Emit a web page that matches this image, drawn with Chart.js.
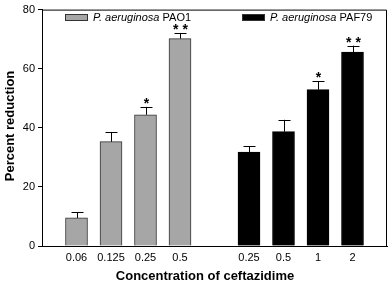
<!DOCTYPE html>
<html>
<head>
<meta charset="utf-8">
<script src="https://cdn.jsdelivr.net/npm/chart.js@4/dist/chart.umd.min.js"></script>
<style>
  html, body { margin: 0; padding: 0; background: #fff; }
  #wrap { width: 392px; height: 286px; }
</style>
</head>
<body>
<div id="wrap"><canvas id="myChart" width="392" height="286"></canvas></div>
<script>
// slots along x: empty slot at both ends and one between the groups
const categories = ['', '0.06', '0.125', '0.25', '0.5', '', '0.25', '0.5', '1', '2', ''];
const pao1Values = [null, 9.5, 35.3, 44.4, 70.2, null, null, null, null, null, null];
const pao1Errors = [null, 1.9, 3.3, 2.7, 1.9, null, null, null, null, null, null];
const paf79Values = [null, null, null, null, null, null, 31.8, 38.7, 52.9, 65.6, null];
const paf79Errors = [null, null, null, null, null, null, 2.0, 4.0, 2.8, 2.2, null];
const stars = ['', '', '', '*', '**', '', '', '', '*', '**', ''];
const yTicks = [0, 20, 40, 60, 80];

const FONT = 'Arial, "Liberation Sans", sans-serif';

const extras = {
  id: 'extras',
  afterDatasetsDraw(chart) {
    const { ctx, chartArea, scales } = chart;
    const x = scales.x, y = scales.y;
    ctx.save();

    // frame top and right
    ctx.strokeStyle = '#000';
    ctx.lineWidth = 1;
    ctx.beginPath();
    ctx.moveTo(chartArea.left, chartArea.top + 0.5);
    ctx.lineTo(chartArea.right - 0.5, chartArea.top + 0.5);
    ctx.lineTo(chartArea.right - 0.5, chartArea.bottom);
    ctx.stroke();

    // error bars (upward only) and stars
    const series = [[pao1Values, pao1Errors], [paf79Values, paf79Errors]];
    series.forEach(([vals, errs]) => {
      vals.forEach((v, i) => {
        if (v == null) return;
        const cx = Math.round(x.getPixelForValue(i)) + 0.5;
        const yTop = y.getPixelForValue(v);
        const yErr = y.getPixelForValue(v + errs[i]);
        ctx.beginPath();
        ctx.moveTo(cx, yTop);
        ctx.lineTo(cx, yErr);
        ctx.moveTo(cx - 6, Math.round(yErr) + 0.5);
        ctx.lineTo(cx + 6, Math.round(yErr) + 0.5);
        ctx.stroke();
        if (stars[i]) {
          ctx.fillStyle = '#000';
          ctx.font = 'bold 14px ' + FONT;
          ctx.textAlign = 'center';
          ctx.textBaseline = 'alphabetic';
          ctx.fillText(stars[i].split('').join(' '), cx, yErr + 1);
        }
      });
    });

    // legends
    const legendItem = (bx, by, fill, label) => {
      ctx.fillStyle = fill;
      ctx.fillRect(bx, by, 23, 7);
      ctx.strokeStyle = '#333';
      ctx.strokeRect(bx + 0.5, by + 0.5, 22, 6);
      ctx.fillStyle = '#000';
      ctx.textAlign = 'left';
      ctx.textBaseline = 'alphabetic';
      ctx.font = 'italic 11px ' + FONT;
      ctx.fillText('P. aeruginosa', bx + 28, by + 7);
      const w = ctx.measureText('P. aeruginosa ').width;
      ctx.font = '11px ' + FONT;
      ctx.fillText(label, bx + 28 + w, by + 7);
    };
    legendItem(65, 14, '#a6a6a6', 'PAO1');
    legendItem(242, 14, '#000', 'PAF79');

    // axis titles
    ctx.fillStyle = '#000';
    ctx.font = 'bold 13px ' + FONT;
    ctx.textAlign = 'center';
    ctx.textBaseline = 'middle';
    ctx.fillText('Concentration of ceftazidime', 205, 276);
    ctx.translate(10, 126);
    ctx.rotate(-Math.PI / 2);
    ctx.fillText('Percent reduction', 0, 0);
    ctx.restore();
  }
};

new Chart(document.getElementById('myChart'), {
  type: 'bar',
  data: {
    labels: categories,
    datasets: [{
      label: 'P. aeruginosa PAO1',
      data: pao1Values,
      backgroundColor: '#a6a6a6',
      borderColor: '#333',
      borderWidth: 1,
      barThickness: 22,
      grouped: false,
    }, {
      label: 'P. aeruginosa PAF79',
      data: paf79Values,
      backgroundColor: '#000',
      borderColor: '#000',
      borderWidth: 1,
      barThickness: 22,
      grouped: false,
    }]
  },
  options: {
    responsive: false,
    animation: false,
    layout: { padding: { top: 6, right: 2, left: 0, bottom: 0 } },
    plugins: { legend: { display: false }, tooltip: { enabled: false } },
    scales: {
      x: {
        offset: false,
        grid: { display: false, drawTicks: false },
        border: { display: true, color: '#000', width: 1 },
        ticks: { color: '#000', font: { family: FONT, size: 11 }, padding: 5, maxRotation: 0, autoSkip: false },
        afterFit(s) { s.height = 40; }
      },
      y: {
        min: 0,
        max: 80,
        afterBuildTicks(s) { s.ticks = yTicks.map(v => ({ value: v })); },
        grid: { drawOnChartArea: false, tickLength: 4, color: '#000' },
        border: { display: true, color: '#000', width: 1 },
        ticks: { color: '#000', font: { family: FONT, size: 11 }, padding: 3 },
        afterFit(s) { s.width = 42; }
      }
    }
  },
  plugins: [extras]
});
</script>
</body>
</html>
